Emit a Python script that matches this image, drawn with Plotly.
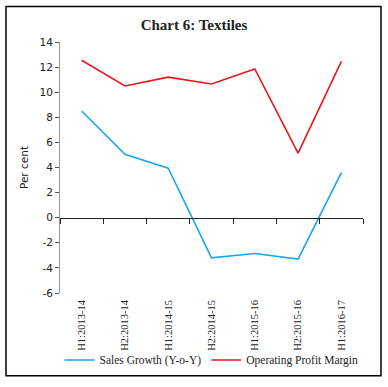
import plotly.graph_objects as go

categories = ["H1:2013-14", "H2:2013-14", "H1:2014-15", "H2:2014-15",
              "H1:2015-16", "H2:2015-16", "H1:2016-17"]
sales_growth = [8.5, 5.05, 3.95, -3.2, -2.85, -3.3, 3.6]
op_margin = [12.55, 10.5, 11.2, 10.65, 11.85, 5.15, 12.45]
y_ticks = [-6, -4, -2, 0, 2, 4, 6, 8, 10, 12, 14]

serif = "Liberation Serif"
sans = "DejaVu Sans"

fig = go.Figure()
fig.add_trace(go.Scatter(x=categories, y=sales_growth, mode="lines",
                         name="Sales Growth (Y-o-Y)",
                         line=dict(color="#1CA5EC", width=1.6)))
fig.add_trace(go.Scatter(x=categories, y=op_margin, mode="lines",
                         name="Operating Profit Margin",
                         line=dict(color="#E8161B", width=1.6)))
# empty helper trace so the zero-line axis (ticks between categories) is drawn
fig.add_trace(go.Scatter(x=[], y=[], xaxis="x2", yaxis="y", showlegend=False,
                         hoverinfo="skip"))

W, H = 388, 387
L, R, T, B = 60, 25, 42, 90
pw, ph = W - L - R, H - T - B

fig.update_layout(
    width=W, height=H,
    margin=dict(l=L, r=R, t=T, b=B),
    paper_bgcolor="white", plot_bgcolor="white",
    title=dict(text="<b>Chart 6: Textiles</b>", x=0.5, xanchor="center",
               y=1 - 25 / H, yanchor="middle",
               font=dict(family=serif, size=15, color="#222")),
    showlegend=True,
    legend=dict(orientation="h", x=0.5, xanchor="center", y=(H - B - 365) / ph,
                yanchor="middle", bgcolor="rgba(0,0,0,0)",
                font=dict(family=serif, size=11.5, color="#222"),
                itemwidth=30, tracegroupgap=0),
    xaxis=dict(type="category", categoryorder="array", categoryarray=categories,
               range=[-0.5, 6.5], showline=False, showgrid=False, zeroline=False,
               ticks="", tickangle=-90, ticklabelstandoff=4,
               tickfont=dict(family=serif, size=10.5, color="#222")),
    xaxis2=dict(overlaying="x", anchor="free", position=6 / 20, range=[-0.5, 6.5],
                tickmode="linear", tick0=-0.5, dtick=1, showticklabels=False,
                showline=True, linecolor="#222", linewidth=1.2,
                ticks="outside", ticklen=5, tickcolor="#222", tickwidth=1,
                showgrid=False, zeroline=False),
    yaxis=dict(range=[-6, 14], tickvals=y_ticks, ticktext=[str(v) for v in y_ticks],
               showgrid=False, zeroline=False,
               showline=True, linecolor="#999", linewidth=1,
               ticks="outside", ticklen=4, tickcolor="#555",
               tickfont=dict(family=sans, size=10.5, color="#222"),
               title=dict(text="Per cent", font=dict(family=sans, size=10.5, color="#222"),
                          standoff=8)),
)

# outer border
fig.add_shape(type="rect", xref="paper", yref="paper",
              x0=(6 - L) / pw, x1=(381 - L) / pw,
              y0=(H - B - 381) / ph, y1=(H - B - 6) / ph,
              line=dict(color="black", width=1.5), fillcolor="rgba(0,0,0,0)", layer="above")

fig.write_html("out.html", post_script="document.body.style.margin='0';",
               config={"displayModeBar": False})
